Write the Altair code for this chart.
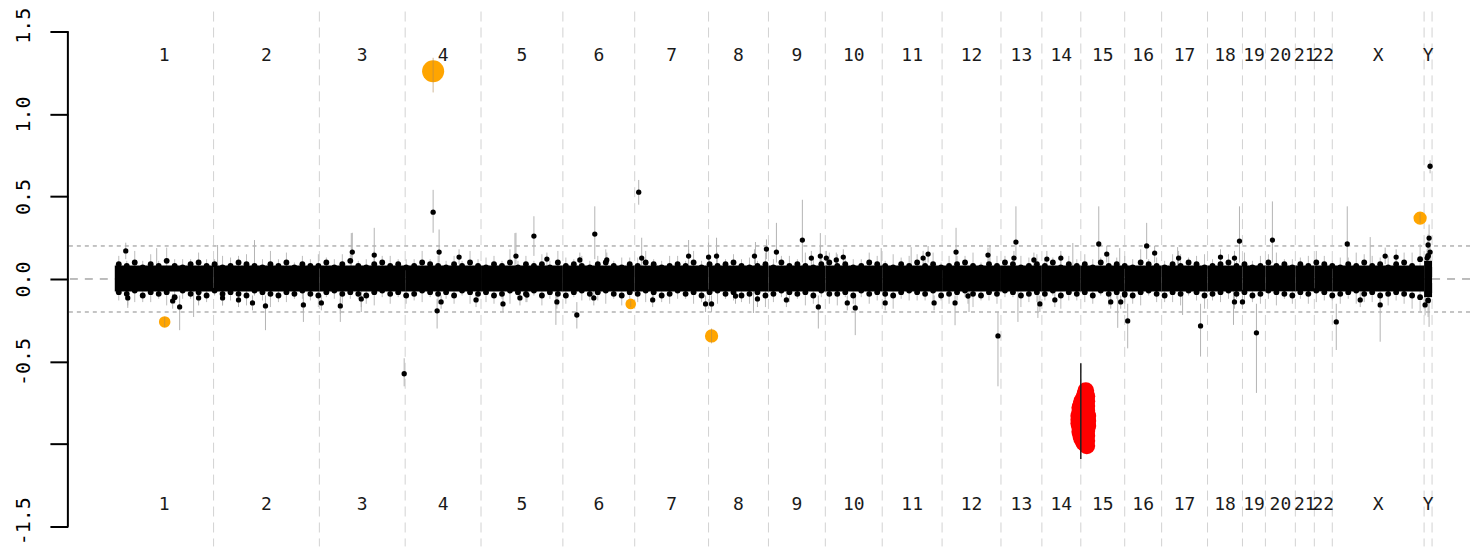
import altair as alt
import pandas as pd

# ---------------- data ----------------
chrom_names = ["1", "2", "3", "4", "5", "6", "7", "8", "9", "10", "11", "12",
               "13", "14", "15", "16", "17", "18", "19", "20", "21", "22", "X", "Y"]
# cumulative bin index at the end of each chromosome
chrom_ends = [99, 205, 291, 367, 449, 521, 595, 655, 712, 769, 829, 888,
              929, 968, 1012, 1049, 1095, 1130, 1153, 1183, 1202, 1220, 1312, 1320]
chrom_starts = [0] + chrom_ends[:-1]

# dense core of the log-ratio cloud per chromosome
core_hi = [0.082] * 23 + [0.11]
core_lo = [-0.075] * 23 + [-0.11]

# edge-of-cloud bins (one every 8 bins, starting at bin 4), with their standard errors
edge_step = 8
edge_hi = [
    0.09, 0.08, 0.10, 0.07, 0.09, 0.08, 0.11, 0.08, 0.07, 0.09,
    0.10, 0.08, 0.09, 0.07, 0.08, 0.10, 0.09, 0.08, 0.07, 0.09,
    0.08, 0.10, 0.07, 0.09, 0.08, 0.08, 0.10, 0.07, 0.09, 0.11,
    0.08, 0.07, 0.09, 0.10, 0.08, 0.09, 0.07, 0.08, 0.10, 0.09,
    0.08, 0.07, 0.09, 0.08, 0.10, 0.08, 0.07, 0.09, 0.08, 0.10,
    0.07, 0.09, 0.08, 0.09, 0.07, 0.10, 0.08, 0.09, 0.08, 0.07,
    0.09, 0.10, 0.08, 0.07, 0.09, 0.08, 0.10, 0.09, 0.07, 0.08,
    0.09, 0.08, 0.10, 0.07, 0.09, 0.08, 0.09, 0.10, 0.08, 0.07,
    0.08, 0.09, 0.07, 0.10, 0.08, 0.09, 0.08, 0.07, 0.09, 0.10,
    0.08, 0.09, 0.07, 0.08, 0.10, 0.09, 0.08, 0.07, 0.09, 0.08,
    0.10, 0.08, 0.09, 0.07, 0.08, 0.09, 0.10, 0.08, 0.07, 0.09,
    0.08, 0.10, 0.09, 0.07, 0.08, 0.09, 0.08, 0.10, 0.07, 0.09,
    0.08, 0.09, 0.07, 0.10, 0.08, 0.09, 0.08, 0.07, 0.10, 0.09,
    0.08, 0.07, 0.09, 0.08, 0.10, 0.09, 0.07, 0.08, 0.09, 0.10,
    0.08, 0.09, 0.07, 0.08, 0.10, 0.08, 0.09, 0.07, 0.09, 0.08,
    0.10, 0.09, 0.08, 0.07, 0.09, 0.08, 0.10, 0.08, 0.09, 0.07,
    0.09, 0.10, 0.08, 0.12, 0.14,
]
edge_lo = [
    -0.08, -0.09, -0.07, -0.10, -0.08, -0.09, -0.08, -0.11, -0.07, -0.09,
    -0.08, -0.10, -0.07, -0.09, -0.08, -0.09, -0.10, -0.07, -0.08, -0.09,
    -0.10, -0.08, -0.09, -0.07, -0.09, -0.10, -0.08, -0.07, -0.09, -0.08,
    -0.09, -0.10, -0.08, -0.07, -0.09, -0.08, -0.10, -0.09, -0.07, -0.08,
    -0.09, -0.08, -0.10, -0.07, -0.08, -0.09, -0.08, -0.10, -0.09, -0.07,
    -0.08, -0.09, -0.07, -0.10, -0.08, -0.09, -0.10, -0.08, -0.07, -0.09,
    -0.08, -0.07, -0.09, -0.10, -0.08, -0.09, -0.07, -0.08, -0.10, -0.09,
    -0.07, -0.09, -0.08, -0.10, -0.08, -0.07, -0.09, -0.08, -0.10, -0.09,
    -0.08, -0.10, -0.09, -0.07, -0.08, -0.09, -0.08, -0.10, -0.07, -0.09,
    -0.09, -0.08, -0.10, -0.07, -0.09, -0.08, -0.09, -0.10, -0.08, -0.07,
    -0.08, -0.09, -0.07, -0.10, -0.09, -0.08, -0.07, -0.09, -0.10, -0.08,
    -0.09, -0.07, -0.08, -0.10, -0.09, -0.08, -0.09, -0.07, -0.10, -0.08,
    -0.09, -0.08, -0.10, -0.07, -0.09, -0.08, -0.09, -0.10, -0.08, -0.07,
    -0.09, -0.10, -0.08, -0.09, -0.07, -0.08, -0.10, -0.09, -0.08, -0.07,
    -0.09, -0.08, -0.10, -0.09, -0.07, -0.08, -0.09, -0.10, -0.08, -0.09,
    -0.07, -0.08, -0.10, -0.09, -0.08, -0.07, -0.09, -0.08, -0.10, -0.09,
    -0.08, -0.09, -0.10, -0.11, -0.13,
]
edge_se = [
    0.05, 0.03, 0.07, 0.04, 0.06, 0.03, 0.08, 0.04, 0.05, 0.03,
    0.06, 0.04, 0.03, 0.07, 0.05, 0.04, 0.06, 0.03, 0.05, 0.08,
    0.04, 0.06, 0.03, 0.05, 0.04, 0.07, 0.03, 0.05, 0.06, 0.04,
    0.03, 0.05, 0.08, 0.04, 0.06, 0.03, 0.05, 0.04, 0.07, 0.03,
    0.06, 0.04, 0.05, 0.03, 0.07, 0.04, 0.06, 0.05, 0.03, 0.08,
    0.04, 0.05, 0.03, 0.06, 0.04, 0.07, 0.05, 0.03, 0.06, 0.04,
    0.05, 0.08, 0.03, 0.06, 0.04, 0.05, 0.07, 0.03, 0.04, 0.06,
    0.05, 0.03, 0.07, 0.04, 0.06, 0.08, 0.03, 0.05, 0.04, 0.06,
    0.03, 0.07, 0.05, 0.04, 0.06, 0.03, 0.08, 0.05, 0.04, 0.06,
    0.07, 0.03, 0.05, 0.04, 0.06, 0.05, 0.03, 0.08, 0.04, 0.06,
    0.05, 0.04, 0.07, 0.03, 0.06, 0.05, 0.04, 0.08, 0.03, 0.05,
    0.06, 0.04, 0.03, 0.07, 0.05, 0.06, 0.04, 0.03, 0.08, 0.05,
    0.04, 0.06, 0.05, 0.03, 0.07, 0.04, 0.06, 0.05, 0.08, 0.03,
    0.05, 0.04, 0.06, 0.07, 0.03, 0.05, 0.08, 0.04, 0.06, 0.05,
    0.03, 0.07, 0.04, 0.06, 0.05, 0.08, 0.03, 0.05, 0.04, 0.06,
    0.07, 0.05, 0.03, 0.06, 0.04, 0.08, 0.05, 0.06, 0.04, 0.07,
    0.05, 0.06, 0.08, 0.09, 0.10,
]

# individual bins outside the core, with their error bars
out_x = [11, 238, 260, 319, 325, 345, 420, 402, 433, 481, 493, 466, 525, 528,
         575, 595, 603, 641, 653, 663, 689, 698, 707, 713, 723, 730, 810, 815,
         843, 875, 903, 901, 921, 934, 948, 986, 994, 1034, 1042, 1066, 1108,
         1127, 1122, 1160, 1235, 1273, 1284, 1318, 1317, 1316, 1318, 1315,
         13, 58, 65, 84, 108, 124, 138, 151, 189, 207, 226, 247, 290, 323, 327,
         362, 389, 406, 413, 443, 463, 480, 539, 592, 598, 622, 644, 673, 705,
         734, 742, 772, 821, 842, 855, 885, 927, 942, 998, 1008, 1012, 1015,
         1088, 1122, 1130, 1144, 1224, 1248, 1268, 1313]
out_y = [0.17, 0.163, 0.145, 0.405, 0.163, 0.133, 0.26, 0.139, 0.121, 0.272,
         0.115, 0.115, 0.526, 0.127, 0.139, 0.133, 0.139, 0.139, 0.181, 0.163,
         0.236, 0.127, 0.139, 0.127, 0.115, 0.133, 0.127, 0.151, 0.163, 0.145,
         0.224, 0.127, 0.115, 0.121, 0.127, 0.212, 0.151, 0.2, 0.157, 0.127,
         0.133, 0.23, 0.127, 0.236, 0.212, 0.139, 0.133, 0.683, 0.248, 0.206,
         0.163, 0.127,
         -0.115, -0.133, -0.169, -0.115, -0.115, -0.127, -0.145, -0.163, -0.157,
         -0.145, -0.163, -0.121, -0.574, -0.193, -0.139, -0.127, -0.151, -0.115,
         -0.097, -0.139, -0.218, -0.115, -0.127, -0.151, -0.151, -0.103, -0.121,
         -0.127, -0.169, -0.145, -0.175, -0.145, -0.145, -0.145, -0.103, -0.345,
         -0.151, -0.127, -0.139, -0.139, -0.097, -0.254, -0.284, -0.139, -0.139,
         -0.326, -0.26, -0.127, -0.157, -0.157]
out_lo = [0.12, 0.11, 0.08, 0.28, 0.10, 0.09, 0.14, 0.09, 0.08, 0.12, 0.07, 0.07,
          0.45, 0.07, 0.09, 0.09, 0.09, 0.09, 0.12, 0.10, 0.10, 0.08, 0.08, 0.08,
          0.07, 0.08, 0.08, 0.10, 0.10, 0.10, 0.12, 0.08, 0.07, 0.07, 0.08, 0.10,
          0.10, 0.12, 0.10, 0.08, 0.08, 0.10, 0.08, 0.10, 0.10, 0.09, 0.09, 0.64,
          0.18, 0.15, 0.10, 0.08,
          -0.16, -0.18, -0.31, -0.16, -0.16, -0.17, -0.19, -0.31, -0.20, -0.19,
          -0.21, -0.17, -0.65, -0.30, -0.18, -0.17, -0.20, -0.16, -0.14, -0.18,
          -0.30, -0.16, -0.17, -0.20, -0.20, -0.15, -0.17, -0.17, -0.30, -0.19,
          -0.34, -0.19, -0.19, -0.28, -0.15, -0.65, -0.20, -0.17, -0.18, -0.18,
          -0.14, -0.42, -0.47, -0.18, -0.18, -0.69, -0.43, -0.17, -0.38, -0.22]
out_hi = [0.22, 0.28, 0.31, 0.54, 0.30, 0.18, 0.38, 0.28, 0.16, 0.44, 0.16, 0.16,
          0.60, 0.25, 0.18, 0.22, 0.25, 0.18, 0.24, 0.34, 0.48, 0.17, 0.20, 0.17,
          0.16, 0.18, 0.17, 0.20, 0.31, 0.19, 0.44, 0.17, 0.16, 0.17, 0.17, 0.44,
          0.20, 0.34, 0.20, 0.17, 0.18, 0.44, 0.17, 0.47, 0.44, 0.19, 0.18, 0.72,
          0.33, 0.27, 0.22, 0.18,
          -0.07, -0.09, -0.10, -0.07, -0.07, -0.08, -0.10, -0.10, -0.11, -0.10,
          -0.12, -0.08, -0.48, -0.12, -0.10, -0.08, -0.10, -0.07, -0.06, -0.10,
          -0.14, -0.07, -0.08, -0.10, -0.10, -0.06, -0.08, -0.08, -0.10, -0.10,
          -0.10, -0.10, -0.10, -0.10, -0.06, -0.20, -0.10, -0.08, -0.10, -0.10,
          -0.06, -0.15, -0.15, -0.10, -0.10, -0.15, -0.15, -0.08, -0.10, -0.10]

# error bars of bins hidden inside the core
wh_x = [237, 103, 140, 42, 401, 575, 603, 642, 707, 798, 768, 960, 1007, 1258,
        1065, 877,
        13, 79, 189, 226, 247, 442, 640, 856, 905, 925, 1005, 1070, 1121, 1317]
wh_lo = [0.05] * 16 + [-0.175, -0.23, -0.26, -0.26, -0.20, -0.278, -0.206, -0.20,
                       -0.26, -0.236, -0.296, -0.218, -0.278, -0.29]
wh_hi = [0.278, 0.206, 0.236, 0.187, 0.278, 0.236, 0.248, 0.224, 0.278, 0.193,
         0.187, 0.218, 0.187, 0.254, 0.193, 0.206] + [-0.05] * 14

# highlighted segments (orange) with their weights (point area)
orange_x = [50, 319, 517, 598, 1308]
orange_y = [-0.26, 1.258, -0.151, -0.345, 0.369]
orange_w = [133, 490, 113, 177, 177]
orange_lo = [-0.29, 1.13, -0.17, -0.39, 0.34]
orange_hi = [-0.23, 1.34, -0.13, -0.30, 0.40]

# significant loss (red) bins
red_x = [973, 972, 971, 969, 968, 967, 967, 966, 966, 966, 967, 967, 968, 969,
         971, 974, 974, 974, 974, 975, 975, 975, 974, 974, 974, 974]
red_y = [-0.677, -0.70, -0.719, -0.74, -0.762, -0.78, -0.804, -0.83, -0.852,
         -0.875, -0.901, -0.925, -0.949, -0.97, -0.992, -1.01, -0.98, -0.95,
         -0.92, -0.89, -0.86, -0.83, -0.80, -0.77, -0.74, -0.71]
red_bar_x = [968]
red_bar_lo = [-1.09]
red_bar_hi = [-0.51]

y_ticks = [-1.5, -1.0, -0.5, 0.0, 0.5, 1.0, 1.5]

# ---------------- tables ----------------
chroms = pd.DataFrame({"name": chrom_names, "start": chrom_starts, "end": chrom_ends,
                       "hi": core_hi, "lo": core_lo})
chroms["mid"] = (chroms["start"] + chroms["end"]) / 2
edge_pos = [4 + edge_step * i for i in range(len(edge_hi))]
edges = pd.DataFrame({"x": edge_pos * 2, "y": edge_hi + edge_lo, "se": edge_se * 2})
edges["lo"] = edges["y"] - edges["se"]
edges["hi"] = edges["y"] + edges["se"]
outl = pd.DataFrame({"x": out_x, "y": out_y, "lo": out_lo, "hi": out_hi})
whisk = pd.DataFrame({"x": wh_x, "lo": wh_lo, "hi": wh_hi})
orange = pd.DataFrame({"x": orange_x, "y": orange_y, "w": orange_w,
                       "lo": orange_lo, "hi": orange_hi})
red = pd.DataFrame({"x": red_x, "y": red_y})
redbar = pd.DataFrame({"x": red_bar_x, "lo": red_bar_lo, "hi": red_bar_hi})
dotted = pd.DataFrame({"y": [0.2, -0.2]})
zero = pd.DataFrame({"y": [0.0]})
axline = pd.DataFrame({"a": [y_ticks[0]], "b": [y_ticks[-1]]})

# ---------------- chart ----------------
W, H = 1405, 536
xs = alt.Scale(domain=[-47, 1358], nice=False, zero=False)
ys = alt.Scale(domain=[-1.62, 1.62], nice=False, zero=False)

yaxis = alt.Axis(values=y_ticks, domain=False, grid=False, ticks=True, tickSize=18,
                 tickWidth=2, tickColor="black", labelAngle=270, labelAlign="center",
                 labelBaseline="middle", labelPadding=26, labelFont="DejaVu Sans Mono",
                 labelFontSize=20, labelColor="black", labelOverlap=False, title=None,
                 labelOffset={"condition": {"test": "abs(datum.value) == 1.5", "value": -6},
                              "value": 0},
                 labelExpr="datum.value == -1 ? '' : (datum.value < 0 ? '-' + format(-datum.value, '.1f') : format(datum.value, '.1f'))")


def X(f):
    return alt.X(f, type="quantitative", scale=xs, axis=None)


def Y(f):
    return alt.Y(f, type="quantitative", scale=ys, axis=yaxis)


vsep = alt.Chart(chroms).mark_rule(color="#d2d2d2", strokeWidth=1, strokeDash=[10, 6]).encode(
    x=X("end"))
dot_lines = alt.Chart(dotted).mark_rule(color="#8a8a8a", strokeWidth=1, strokeDash=[4, 4]).encode(
    y=Y("y"))
zero_line = alt.Chart(zero).mark_rule(color="#7a7a7a", strokeWidth=1, strokeDash=[8, 7]).encode(
    y=Y("y"))
edge_wh = alt.Chart(edges).mark_rule(color="#bdbdbd", strokeWidth=1).encode(
    x=X("x"), y=Y("lo"), y2="hi")
whiskers = alt.Chart(whisk).mark_rule(color="#b4b4b4", strokeWidth=1).encode(
    x=X("x"), y=Y("lo"), y2="hi")
out_wh = alt.Chart(outl).mark_rule(color="#b4b4b4", strokeWidth=1).encode(
    x=X("x"), y=Y("lo"), y2="hi")
core = alt.Chart(chroms).mark_rect(color="black").encode(
    x=X("start"), x2="end", y=Y("lo"), y2="hi")
edge_pts = alt.Chart(edges).mark_circle(color="black", size=34, opacity=1).encode(
    x=X("x"), y=Y("y"))
out_pts = alt.Chart(outl).mark_circle(color="black", size=28, opacity=1).encode(
    x=X("x"), y=Y("y"))
orange_pts = alt.Chart(orange).mark_circle(color="#FFA500", opacity=1).encode(
    x=X("x"), y=Y("y"), size=alt.Size("w:Q", scale=None, legend=None))
orange_wh = alt.Chart(orange).mark_rule(color="#b08a50", strokeWidth=1, opacity=0.6).encode(
    x=X("x"), y=Y("lo"), y2="hi")
red_pts = alt.Chart(red).mark_circle(color="#FF0000", size=285, opacity=1).encode(
    x=X("x"), y=Y("y"))
red_line = alt.Chart(redbar).mark_rule(color="#222222", strokeWidth=1.5).encode(
    x=X("x"), y=Y("lo"), y2="hi")
axis_line = alt.Chart(axline).mark_rule(color="black", strokeWidth=2).encode(
    x=alt.value(0), y=Y("a"), y2="b")
top_lab = alt.Chart(chroms).mark_text(font="DejaVu Sans Mono", fontSize=18, color="#1a1a1a",
                                      baseline="middle", align="center").encode(
    x=X("mid"), y=alt.value(45), text="name:N")
bot_lab = alt.Chart(chroms).mark_text(font="DejaVu Sans Mono", fontSize=18, color="#1a1a1a",
                                      baseline="middle", align="center").encode(
    x=X("mid"), y=alt.value(494), text="name:N")

chart = alt.layer(
    vsep, dot_lines, zero_line, edge_wh, whiskers, out_wh, core, edge_pts, out_pts,
    orange_pts, orange_wh, red_pts, red_line, axis_line, top_lab, bot_lab
).properties(
    width=W, height=H,
    autosize=alt.AutoSizeParams(type="none"),
    padding={"left": 60, "top": 3, "right": 0, "bottom": 0},
    background="white",
).configure_view(stroke=None)

chart.save("out.html", embed_options={"renderer": "svg", "actions": False})
